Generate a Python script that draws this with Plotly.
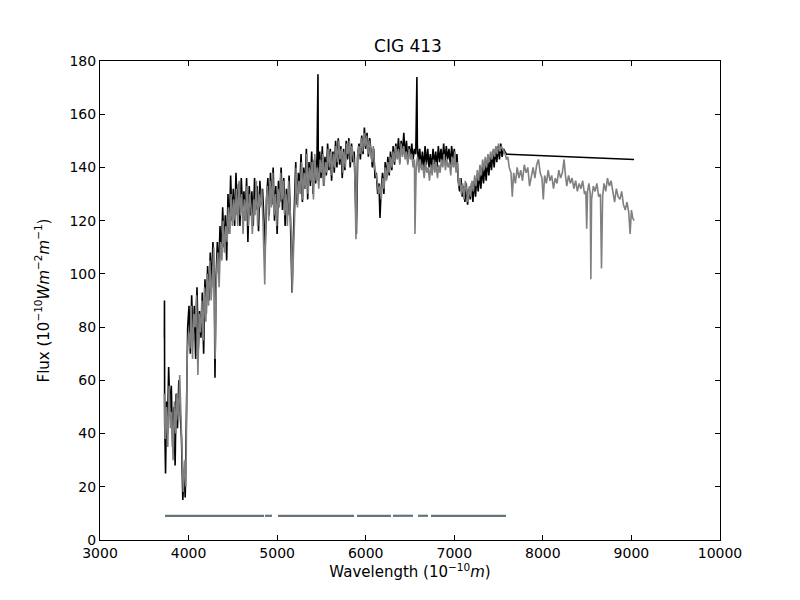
import plotly.graph_objects as go

# grey spectrum (full range)
gray_wave = [
    3727, 3735, 3750, 3765, 3780, 3795, 3810, 3825, 3840, 3855, 3870, 3885, 3900, 3915, 3930, 3940,
    3955, 3970, 3985, 4000, 4015, 4030, 4045, 4060, 4075, 4090, 4105, 4120, 4135, 4150, 4165, 4180,
    4195, 4210, 4225, 4240, 4255, 4270, 4285, 4300, 4315, 4330, 4345, 4360, 4375, 4390, 4405, 4420,
    4435, 4450, 4465, 4480, 4495, 4510, 4525, 4540, 4555, 4570, 4585, 4600, 4615, 4630, 4645, 4660,
    4675, 4690, 4705, 4720, 4735, 4750, 4765, 4780, 4795, 4810, 4825, 4840, 4860, 4875, 4890, 4905,
    4920, 4935, 4950, 4965, 4980, 4995, 5010, 5025, 5040, 5055, 5070, 5085, 5100, 5115, 5130, 5145,
    5160, 5170, 5185, 5200, 5215, 5230, 5245, 5260, 5275, 5290, 5305, 5320, 5335, 5350, 5365, 5380,
    5395, 5410, 5425, 5440, 5455, 5470, 5485, 5500, 5515, 5530, 5545, 5560, 5575, 5590, 5605, 5620,
    5635, 5650, 5665, 5680, 5695, 5710, 5725, 5740, 5755, 5770, 5785, 5800, 5815, 5830, 5845, 5860,
    5875, 5890, 5905, 5920, 5935, 5950, 5965, 5980, 5995, 6010, 6025, 6040, 6055, 6070, 6085, 6100,
    6115, 6130, 6145, 6160, 6175, 6190, 6205, 6220, 6235, 6250, 6265, 6280, 6295, 6310, 6325, 6340,
    6355, 6370, 6385, 6400, 6415, 6430, 6445, 6460, 6475, 6490, 6505, 6520, 6535, 6550, 6556, 6570,
    6585, 6600, 6615, 6630, 6645, 6660, 6675, 6690, 6705, 6720, 6735, 6750, 6765, 6780, 6795, 6810,
    6825, 6840, 6855, 6870, 6885, 6900, 6915, 6930, 6945, 6960, 6975, 6990, 7005, 7020, 7035, 7050,
    7065, 7080, 7095, 7110, 7125, 7140, 7155, 7170, 7185, 7200, 7215, 7230, 7245, 7260, 7275, 7290,
    7305, 7320, 7335, 7350, 7365, 7380, 7395, 7410, 7425, 7440, 7455, 7470, 7485, 7500, 7515, 7530,
    7545, 7560, 7575, 7590, 7605, 7620, 7640, 7655, 7670, 7690, 7710, 7730, 7750, 7770, 7790, 7810,
    7830, 7850, 7870, 7890, 7910, 7930, 7950, 7970, 7990, 8005, 8020, 8040, 8060, 8080, 8100, 8120,
    8140, 8160, 8180, 8200, 8220, 8240, 8255, 8270, 8290, 8310, 8330, 8350, 8370, 8390, 8410, 8430,
    8450, 8470, 8485, 8495, 8505, 8520, 8535, 8542, 8550, 8570, 8590, 8610, 8630, 8650, 8662, 8675,
    8690, 8710, 8730, 8750, 8770, 8790, 8810, 8830, 8850, 8870, 8890, 8910, 8930, 8950, 8970, 8985,
    9000, 9015, 9030,
]
gray_flux = [
    55, 38, 50, 35, 58, 42, 48, 30, 52, 40, 55, 45, 62, 45, 35, 18,
    30, 20, 70, 78, 72, 88, 68, 85, 80, 92, 62, 85, 78, 90, 75, 95,
    82, 100, 88, 105, 90, 98, 110, 68, 100, 108, 95, 112, 105, 120, 108, 118,
    112, 125, 115, 130, 118, 128, 120, 132, 118, 135, 122, 130, 115, 128, 120, 133,
    118, 130, 125, 115, 128, 122, 135, 118, 130, 125, 132, 120, 96, 125, 133, 120,
    135, 125, 138, 122, 130, 118, 132, 125, 138, 128, 135, 122, 130, 118, 135, 125,
    115, 93, 112, 128, 140, 125, 135, 130, 142, 128, 138, 132, 145, 130, 140, 135,
    142, 128, 145, 135, 140, 132, 143, 138, 145, 133, 142, 138, 147, 140, 146, 137,
    145, 140, 148, 142, 150, 143, 147, 138, 146, 140, 149, 145, 150, 142, 148, 144,
    140, 113, 143, 148, 145, 151, 146, 153, 148, 152, 145, 150, 147, 142, 148, 140,
    137, 135, 130, 133, 128, 136, 132, 140, 135, 142, 138, 144, 140, 146, 142, 148,
    143, 147, 141, 149, 144, 148, 143, 146, 141, 147, 143, 145, 140, 143, 115, 140,
    144, 138, 143, 139, 141, 136, 142, 138, 140, 135, 141, 137, 143, 138, 142, 136,
    141, 138, 143, 140, 145, 139, 143, 140, 142, 137, 144, 140, 146, 138, 142, 133,
    136, 130, 134, 128, 135, 131, 127, 133, 129, 135, 131, 137, 133, 139, 135, 141,
    137, 143, 139, 144, 140, 145, 142, 146, 143, 147, 144, 148, 145, 149, 146, 148,
    147, 146, 145, 143, 144, 140, 138, 129, 138, 134, 140, 136, 139, 135, 141, 138,
    140, 133, 137, 140, 136, 141, 143, 138, 136, 128, 137, 134, 139, 135, 137, 132,
    136, 134, 139, 136, 138, 143, 137, 133, 137, 134, 136, 132, 135, 131, 134, 132,
    135, 130, 131, 117, 131, 134, 130, 98, 128, 133, 131, 134, 129, 130, 102, 129,
    134, 131, 136, 133, 135, 130, 127, 132, 129, 128, 131, 126, 124, 127, 123, 115,
    124, 121, 120,
]

# black spectrum (blue arm + linear join to the red end)
black_wave = [
    3727, 3728, 3730, 3740, 3752, 3762, 3775, 3790, 3805, 3820, 3835, 3848, 3860, 3875, 3890, 3905,
    3920, 3935, 3950, 3962, 3975, 3990, 4005, 4020, 4035, 4050, 4065, 4080, 4095, 4110, 4125, 4140,
    4155, 4170, 4185, 4200, 4215, 4230, 4245, 4260, 4275, 4290, 4298, 4310, 4325, 4340, 4355, 4370,
    4385, 4400, 4415, 4430, 4445, 4460, 4475, 4490, 4505, 4520, 4535, 4550, 4565, 4580, 4595, 4610,
    4625, 4640, 4655, 4670, 4685, 4700, 4715, 4730, 4745, 4760, 4775, 4790, 4805, 4820, 4835, 4850,
    4865, 4880, 4895, 4910, 4925, 4940, 4955, 4970, 4985, 5000, 5015, 5030, 5045, 5060, 5075, 5090,
    5105, 5120, 5135, 5150, 5168, 5180, 5195, 5210, 5225, 5240, 5255, 5270, 5285, 5300, 5315, 5330,
    5345, 5360, 5375, 5390, 5405, 5420, 5435, 5450, 5461, 5465, 5480, 5495, 5510, 5525, 5540, 5555,
    5570, 5585, 5600, 5615, 5630, 5645, 5660, 5675, 5690, 5705, 5720, 5735, 5750, 5765, 5780, 5795,
    5810, 5825, 5840, 5855, 5870, 5885, 5895, 5910, 5925, 5940, 5955, 5970, 5985, 6000, 6015, 6030,
    6045, 6060, 6075, 6090, 6105, 6120, 6135, 6150, 6161, 6175, 6190, 6205, 6220, 6235, 6250, 6265,
    6280, 6295, 6310, 6325, 6340, 6355, 6370, 6385, 6400, 6415, 6430, 6445, 6460, 6475, 6490, 6505,
    6520, 6535, 6550, 6565, 6578, 6583, 6595, 6610, 6625, 6640, 6655, 6670, 6685, 6700, 6715, 6730,
    6745, 6760, 6775, 6790, 6805, 6820, 6835, 6850, 6865, 6880, 6895, 6910, 6925, 6940, 6955, 6970,
    6985, 7000, 7015, 7030, 7045, 7060, 7075, 7090, 7105, 7120, 7135, 7150, 7165, 7180, 7195, 7210,
    7225, 7240, 7255, 7270, 7285, 7300, 7315, 7330, 7345, 7360, 7375, 7390, 7405, 7420, 7435, 7450,
    7465, 7480, 7495, 7510, 7525, 7540, 7555, 7570, 7590, 9030,
]
black_flux = [
    76, 90, 45, 25, 52, 40, 65, 48, 58, 35, 50, 28, 55, 42, 60, 48,
    38, 15, 25, 16, 55, 80, 88, 70, 92, 75, 88, 68, 95, 72, 86, 76,
    93, 70, 98, 85, 103, 90, 108, 95, 112, 100, 61, 98, 112, 100, 118, 106,
    125, 110, 122, 105, 130, 115, 137, 120, 132, 118, 138, 122, 134, 118, 136, 125,
    131, 120, 136, 112, 133, 122, 131, 118, 136, 124, 133, 116, 135, 126, 132, 120,
    110, 128, 136, 122, 138, 126, 140, 120, 133, 115, 135, 127, 140, 124, 136, 118,
    132, 122, 137, 120, 93, 110, 130, 142, 126, 138, 132, 145, 127, 140, 132, 147,
    128, 142, 133, 146, 130, 143, 134, 144, 175, 135, 146, 136, 148, 133, 144, 137,
    149, 139, 147, 135, 146, 138, 150, 140, 151, 141, 148, 136, 147, 139, 150, 143,
    151, 140, 149, 142, 146, 120, 115, 145, 149, 143, 152, 145, 155, 147, 153, 144,
    151, 146, 140, 147, 136, 138, 130, 134, 121, 132, 138, 130, 142, 136, 144, 137,
    146, 139, 148, 141, 149, 144, 151, 142, 150, 145, 153, 144, 150, 142, 148, 144,
    149, 143, 147, 145, 174, 148, 142, 147, 140, 146, 139, 148, 141, 147, 140, 145,
    139, 147, 141, 146, 140, 148, 142, 147, 141, 149, 142, 148, 143, 147, 141, 148,
    143, 147, 140, 145, 135, 131, 136, 129, 133, 127, 134, 126, 132, 128, 134, 127,
    135, 129, 137, 131, 138, 132, 140, 134, 141, 135, 143, 137, 144, 139, 146, 140,
    147, 142, 148, 143, 149, 144, 147, 146, 145, 143,
]

# wavelength coverage segments drawn near the bottom
seg_start = [3734, 4863, 5010, 5902, 6308, 6590, 6737]
seg_end = [4852, 4942, 5868, 6285, 6534, 6703, 7584]
seg_level = 9.1

seg_x, seg_y = [], []
for a, b in zip(seg_start, seg_end):
    seg_x += [a, b, None]
    seg_y += [seg_level, seg_level, None]

fig = go.Figure()
fig.add_trace(go.Scatter(x=black_wave, y=black_flux, mode="lines",
                         line=dict(color="black", width=1.6)))
fig.add_trace(go.Scatter(x=gray_wave, y=gray_flux, mode="lines",
                         line=dict(color="#808080", width=1.6)))
fig.add_trace(go.Scatter(x=seg_x, y=seg_y, mode="lines",
                         line=dict(color="#66737b", width=2.2)))

axis_style = dict(showgrid=False, zeroline=False, showline=True, linecolor="black",
                  linewidth=1, mirror="ticks", ticks="inside", ticklen=5,
                  tickcolor="black", tickfont=dict(size=14, color="black"),
                  tickformat="d", automargin=False)

# the page body adds an 8px offset, so margins are shifted to line up the axes box
fig.update_layout(
    width=800, height=600,
    paper_bgcolor="white", plot_bgcolor="white",
    showlegend=False,
    font=dict(family="DejaVu Sans", color="black"),
    margin=dict(l=92, r=88, t=53, b=68, autoexpand=False),
    title=dict(text="CIG 413", x=0.5, xanchor="center", y=0.937, yanchor="middle",
               font=dict(size=17, color="black")),
    xaxis=dict(range=[3000, 10000], dtick=1000,
               title=dict(text="Wavelength (10<sup>−10</sup><i>m</i>)", font=dict(size=15), standoff=5),
               **axis_style),
    yaxis=dict(range=[0, 180], dtick=20,
               title=dict(text="Flux (10<sup>−10</sup><i>Wm</i><sup>−2</sup><i>m</i><sup>−1</sup>)",
                          font=dict(size=15), standoff=16),
               **axis_style),
)

fig.write_html("out.html")
